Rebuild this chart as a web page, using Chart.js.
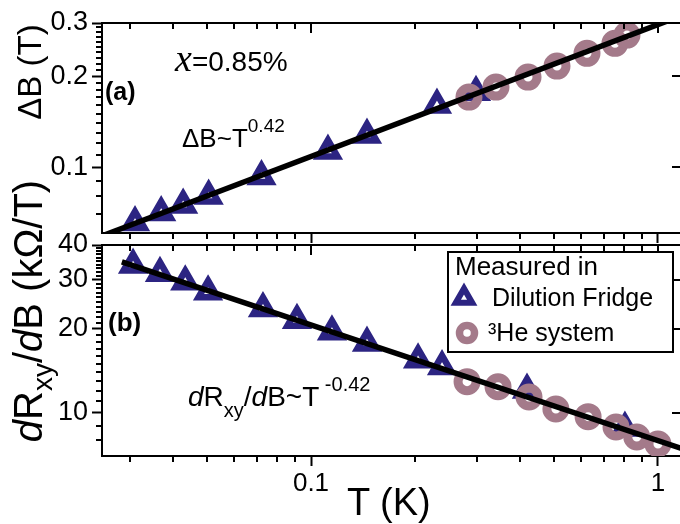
<!DOCTYPE html>
<html>
<head>
<meta charset="utf-8">
<title>ΔB and dRxy/dB versus T</title>
<script src="https://cdn.jsdelivr.net/npm/chart.js@4.4.1/dist/chart.umd.min.js"></script>
<style>
  html, body { margin:0; padding:0; background:#fff; overflow:hidden; }
  #wrap { position:relative; width:680px; height:524px; overflow:hidden; background:#fff;
          font-family:"Liberation Sans", Arial, Helvetica, sans-serif; color:#000; }
  canvas { position:absolute; left:0; }
  #cA { top:0; }
  #cB { top:220px; }
  .t { position:absolute; white-space:nowrap; line-height:1; }
  .t span { line-height:0; }
  .rel { position:relative; }
  .rot { transform: translate(-50%,-50%) rotate(-90deg); }
</style>
</head>
<body>
<div id="wrap">
  <canvas id="cA" width="700" height="262"></canvas>
  <canvas id="cB" width="700" height="304"></canvas>

  <!-- axis titles -->
  <div class="t rot" style="left:29px;top:72px;font-size:33px;">ΔB (T)</div>
  <div class="t rot" style="left:28px;top:311px;font-size:40px;"><i>d</i>R<span class="rel" style="font-size:28px;top:10px;">xy</span>/<i>d</i>B (kΩ/T)</div>
  <div class="t" style="left:347px;top:483px;font-size:38px;">T (K)</div>

  <!-- panel (a) annotations -->
  <div class="t" style="left:105px;top:79px;font-size:25px;font-weight:bold;">(a)</div>
  <div class="t" style="left:175px;top:48px;font-size:28px;"><span style="font-family:'Liberation Serif','DejaVu Serif',serif;font-style:italic;font-size:38px;">x</span>=0.85%</div>
  <div class="t" style="left:182px;top:125px;font-size:26px;">ΔB~T<span class="rel" style="font-size:19px;top:-15px;">0.42</span></div>

  <!-- panel (b) annotations -->
  <div class="t" style="left:108px;top:309px;font-size:26px;font-weight:bold;">(b)</div>
  <div class="t" style="left:188px;top:383px;font-size:28px;"><i>d</i>R<span class="rel" style="font-size:20px;top:11px;">xy</span>/<i>d</i>B~T<span class="rel" style="font-size:20px;top:-15px;"> -0.42</span></div>
</div>

<script>
// ---------------- data ----------------
// panel (a): field width Delta B (T) versus temperature T (K)
const tDilA  = [0.0311, 0.0370, 0.0428, 0.0507, 0.0720, 0.1119, 0.1450, 0.2307, 0.2989];
const dBDil  = [0.0655, 0.0707, 0.0749, 0.0802, 0.0930, 0.1130, 0.1276, 0.1604, 0.1771];
const tHeA   = [0.2853, 0.3413, 0.4222, 0.5117, 0.6244, 0.7517, 0.8141];
const dBHe   = [0.1705, 0.1840, 0.1986, 0.2160, 0.2380, 0.2569, 0.2736];
const tFitA  = [0.025, 1.2];
const dBFit  = [0.0592, 0.321];

// panel (b): dRxy/dB (kOhm/T) versus temperature T (K)
const tDilB  = [0.0307, 0.0367, 0.0434, 0.0505, 0.0727, 0.0911, 0.1149, 0.1450, 0.2035, 0.2386, 0.4193, 0.8030];
const dRDil  = [33.9, 31.7, 29.55, 27.2, 23.7, 21.5, 19.56, 17.8, 15.5, 14.66, 12.09, 8.84];
const tHeB   = [0.2817, 0.3460, 0.4250, 0.5080, 0.6290, 0.7570, 0.8690, 1.0];
const dRHe   = [12.95, 12.42, 11.41, 10.33, 9.70, 8.91, 8.20, 7.74];
const tFitB  = [0.0285, 1.2];
const dRFit  = [34.8, 7.38];

// axes
const tRange   = [0.02498, 1.173];
const dBRange  = [0.0605, 0.3];
const dRRange  = [7.01, 40];
const tMajor       = [0.1, 1];
const tMajorLabels = ['0.1', '1'];
const tMinor       = [0.03, 0.04, 0.05, 0.06, 0.07, 0.08, 0.09, 0.2, 0.3, 0.4, 0.5, 0.6, 0.7, 0.8, 0.9];
const dBMajor       = [0.1, 0.2, 0.3];
const dBMajorLabels = ['0.1', '0.2', '0.3'];
const dBMinor       = [0.07, 0.08, 0.09, 0.11, 0.12, 0.13, 0.14, 0.15, 0.16, 0.17, 0.18, 0.19,
                       0.21, 0.22, 0.23, 0.24, 0.25, 0.26, 0.27, 0.28, 0.29];
const dRMajor       = [10, 20, 30, 40];
const dRMajorLabels = ['10', '20', '30', '40'];
const dRMinor       = [8, 9, 11, 12, 13, 14, 15, 16, 17, 18, 19, 21, 22, 23, 24, 25, 26, 27, 28, 29,
                       31, 32, 33, 34, 35, 36, 37, 38, 39];

// legend
const legendTitle = 'Measured in';
const labelDil = 'Dilution Fridge';
const labelHe  = '\u00B3He system';

// ---------------- style ----------------
const FONT  = '"Liberation Sans", Arial, Helvetica, sans-serif';
const NAVY  = 'rgb(44,36,130)';
const MAUVE = 'rgb(164,122,138)';
const MAJ = 10, MIN = 6;

const pts = (xs, ys) => xs.map((x, i) => ({ x: x, y: ys[i] }));

function frameTicks(xMaj, xMin, yMaj, yMin) {
  return {
    id: 'frameTicks',
    afterDraw(chart) {
      const { ctx, chartArea: ca } = chart;
      const xs = chart.scales.x, ys = chart.scales.y;
      ctx.save();
      ctx.strokeStyle = '#000';
      ctx.lineWidth = 2;
      ctx.beginPath();
      ctx.moveTo(ca.left - 1, ca.top);
      ctx.lineTo(ca.right, ca.top);
      ctx.lineTo(ca.right, ca.bottom + 1);
      ctx.stroke();
      ctx.beginPath();
      xMaj.forEach(v => { const p = Math.round(xs.getPixelForValue(v)); ctx.moveTo(p, ca.top); ctx.lineTo(p, ca.top + MAJ); });
      xMin.forEach(v => {
        const p = Math.round(xs.getPixelForValue(v));
        ctx.moveTo(p, ca.top); ctx.lineTo(p, ca.top + MIN);
        ctx.moveTo(p, ca.bottom); ctx.lineTo(p, ca.bottom + MIN);
      });
      yMin.forEach(v => { const p = Math.round(ys.getPixelForValue(v)); ctx.moveTo(ca.left - MIN, p); ctx.lineTo(ca.left, p); });
      yMaj.forEach(v => { const p = Math.round(ys.getPixelForValue(v)); ctx.moveTo(ca.right - MAJ, p); ctx.lineTo(ca.right, p); });
      ctx.stroke();
      ctx.restore();
    }
  };
}

function drawMarker(ctx, style, x, y, r, bw, color) {
  ctx.save();
  ctx.lineWidth = bw;
  ctx.strokeStyle = color;
  ctx.beginPath();
  if (style === 'triangle') {
    for (let k = 0; k < 3; k++) {
      const a = k * 2 * Math.PI / 3;
      const px = x + Math.sin(a) * r, py = y - Math.cos(a) * r;
      if (k === 0) ctx.moveTo(px, py); else ctx.lineTo(px, py);
    }
    ctx.closePath();
  } else {
    ctx.arc(x, y, r, 0, Math.PI * 2);
  }
  ctx.stroke();
  ctx.restore();
}

const boxLegend = {
  id: 'boxLegend',
  afterDraw(chart) {
    const { ctx, chartArea: ca } = chart;
    const items = chart.data.datasets.filter(d => d.label);
    const bx = ca.right - 234, by = ca.top + 7, bw = 225, bh = 100;
    ctx.save();
    ctx.fillStyle = '#fff';
    ctx.fillRect(bx, by, bw, bh);
    ctx.lineWidth = 2;
    ctx.strokeStyle = '#000';
    ctx.strokeRect(bx, by, bw, bh);
    ctx.fillStyle = '#000';
    ctx.textAlign = 'left';
    ctx.textBaseline = 'alphabetic';
    ctx.font = '26px ' + FONT;
    ctx.fillText(legendTitle, bx + 7, by + 23);
    ctx.font = '25px ' + FONT;
    items.forEach((d, i) => {
      const my = by + 45 + i * 36;
      const tri = d.pointStyle === 'triangle';
      drawMarker(ctx, d.pointStyle, bx + (tri ? 16 : 19), my + (tri ? 1 : 0), tri ? 9.5 : 7.5, tri ? 6 : 7.5, d.pointBorderColor);
      ctx.fillStyle = '#000';
      ctx.fillText(d.label, bx + (tri ? 44 : 40), my + (tri ? 9 : 8));
    });
    ctx.restore();
  }
};

function gridOpts() {
  return { drawOnChartArea: false, drawTicks: true, tickLength: MAJ, tickWidth: 2, tickColor: '#000' };
}
const borderOpts = { display: true, width: 2, color: '#000' };

function datasets(fitX, fitY, dilX, dilY, heX, heY) {
  return [
    { label: '', data: pts(fitX, fitY), showLine: true, borderColor: '#000', borderWidth: 5.5,
      pointRadius: 0, clip: 0, order: 0 },
    { label: labelDil, data: pts(dilX, dilY), showLine: false, pointStyle: 'triangle',
      pointRadius: 11, pointBorderWidth: 6.5, pointBorderColor: NAVY, pointBackgroundColor: 'rgba(0,0,0,0)',
      borderColor: NAVY, backgroundColor: 'rgba(0,0,0,0)', order: 2 },
    { label: labelHe, data: pts(heX, heY), showLine: false, pointStyle: 'circle',
      pointRadius: 9, pointBorderWidth: 9, pointBorderColor: MAUVE, pointBackgroundColor: 'rgba(0,0,0,0)',
      borderColor: MAUVE, backgroundColor: 'rgba(0,0,0,0)', order: 1 }
  ];
}

const common = {
  responsive: false,
  animation: false,
  devicePixelRatio: 1,
  events: [],
  plugins: { legend: { display: false }, tooltip: { enabled: false } }
};

// ---------------- panel (a) ----------------
new Chart(document.getElementById('cA'), {
  type: 'scatter',
  data: { datasets: datasets(tFitA, dBFit, tDilA, dBDil, tHeA, dBHe) },
  options: Object.assign({}, common, {
    layout: { padding: { top: 23, right: 18, left: 0, bottom: 0 } },
    scales: {
      x: {
        type: 'logarithmic', position: 'bottom', min: tRange[0], max: tRange[1],
        afterBuildTicks: s => { s.ticks = tMajor.map(v => ({ value: v })); },
        afterFit: s => { s.height = 29; },
        ticks: { display: false, autoSkip: false },
        grid: gridOpts(), border: borderOpts
      },
      y: {
        type: 'logarithmic', position: 'left', min: dBRange[0], max: dBRange[1],
        afterBuildTicks: s => { s.ticks = dBMajor.map(v => ({ value: v })); },
        afterFit: s => { s.width = 102; },
        ticks: { autoSkip: false, padding: 4, color: '#000', font: { family: FONT, size: 27 },
                 callback: (v, i) => dBMajorLabels[i] },
        grid: gridOpts(), border: borderOpts
      }
    }
  }),
  plugins: [frameTicks(tMajor, tMinor, dBMajor, dBMinor)]
});

// ---------------- panel (b) ----------------
new Chart(document.getElementById('cB'), {
  type: 'scatter',
  data: { datasets: datasets(tFitB, dRFit, tDilB, dRDil, tHeB, dRHe) },
  options: Object.assign({}, common, {
    layout: { padding: { top: 25, right: 18, left: 0, bottom: 0 } },
    scales: {
      x: {
        type: 'logarithmic', position: 'bottom', min: tRange[0], max: tRange[1],
        afterBuildTicks: s => { s.ticks = tMajor.map(v => ({ value: v })); },
        afterFit: s => { s.height = 68; },
        ticks: { autoSkip: false, maxRotation: 0, padding: 2, color: '#000', font: { family: FONT, size: 26 },
                 callback: (v, i) => tMajorLabels[i] },
        grid: gridOpts(), border: borderOpts
      },
      y: {
        type: 'logarithmic', position: 'left', min: dRRange[0], max: dRRange[1],
        afterBuildTicks: s => { s.ticks = dRMajor.map(v => ({ value: v })); },
        afterFit: s => { s.width = 102; },
        ticks: { autoSkip: false, padding: 4, color: '#000', font: { family: FONT, size: 27 },
                 callback: (v, i) => dRMajorLabels[i] },
        grid: gridOpts(), border: borderOpts
      }
    }
  }),
  plugins: [frameTicks(tMajor, tMinor, dRMajor, dRMinor), boxLegend]
});
</script>
</body>
</html>
